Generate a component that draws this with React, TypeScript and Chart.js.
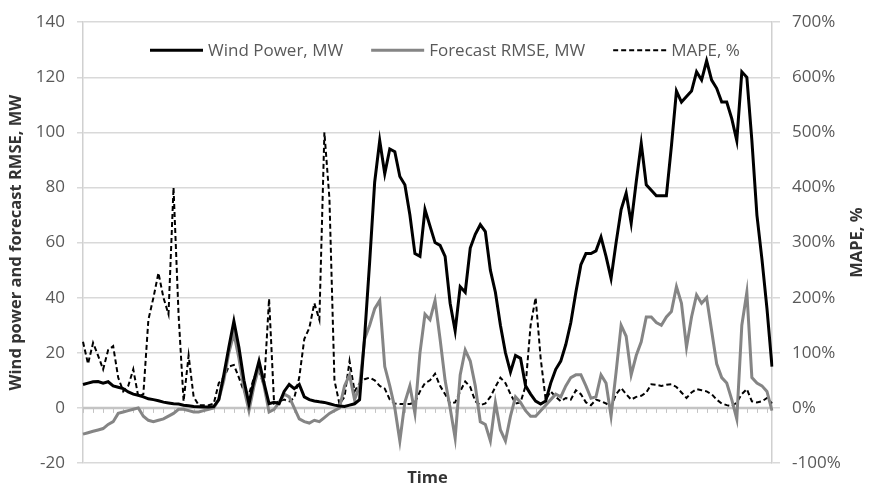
import React, { useEffect, useRef } from "react";
import { Chart, registerables } from "chart.js";

Chart.register(...registerables);

// Wind power, MW (left axis)
const WIND_POWER = [
  8.5, 9, 9.5, 9.6, 9, 9.5, 8, 7.5, 7, 5.8,
  5, 4.6, 4, 3.3, 3, 2.6, 2.1, 1.8, 1.5, 1.4,
  1, 0.8, 0.5, 0.4, 0.3, 0.3, 0.5, 3, 12, 22,
  31.5, 22, 10, 1.5, 10, 17, 9, 1.5, 2, 1.5,
  6, 8.5, 7, 8.5, 4, 3, 2.5, 2.2, 2, 1.5,
  1, 0.7, 0.5, 1, 1.5, 3, 26, 53, 82, 97,
  85, 94, 93, 84, 81, 70, 56, 55, 72, 66,
  60, 59, 55, 38, 28, 44, 42, 58, 63, 66.5,
  64, 50, 42, 30, 20, 13, 19, 18, 8, 5,
  2.5, 1.4, 2.5, 9, 14, 17, 23, 31, 42, 52,
  56, 56, 57, 62, 55, 47, 60, 72, 78, 67,
  82, 96, 81, 79, 77, 77, 77, 95, 115, 111,
  113, 115, 122, 119, 126, 119, 116, 111, 111, 105,
  97, 122, 120, 97, 70, 54, 36, 15,
];

// Forecast RMSE, MW (left axis)
const FORECAST_RMSE = [
  -9.5, -9, -8.5, -8, -7.5, -6, -5, -2, -1.5, -1,
  -0.5, 0, -3, -4.5, -5, -4.5, -4, -3, -2, -0.5,
  -0.5, -1, -1.5, -1.5, -1, -0.5, 0, 3, 10, 20,
  27, 18, 7, -1, 8, 15, 8, -1.5, -0.5, 2,
  5, 4, 0, -4, -5, -5.5, -4.5, -5, -3.5, -2,
  -1, 0, 8, 12, 3, 8, 25, 30, 36, 39,
  15, 8, 0, -12, 2, 8, -2, 20, 34, 32,
  39, 25, 10, 0, -11, 12, 21, 17, 8, -5,
  -6, -12, 2, -8, -12, -3, 4, 2, -1, -3,
  -3, -1, 1, 3, 5, 4, 8, 11, 12, 12,
  8, 3.5, 4, 12, 9, -3, 13, 30, 26, 12,
  19, 24, 33, 33, 31, 30, 33, 35, 44, 38,
  22, 33, 41, 38, 40, 28, 16, 11, 9, 3,
  -4, 30, 42, 11, 9, 8, 6, -1,
];

// MAPE, % (right axis)
const MAPE = [
  120, 80, 118, 95, 70, 105, 112, 55, 30, 40,
  70, 20, 25, 160, 200, 245, 200, 170, 400, 170,
  12, 95, 20, 5, 5, 5, 8, 45, 55, 75,
  78, 55, 30, 25, 55, 68, 40, 198, 8, 12,
  15, 12, 18, 55, 125, 145, 190, 160, 500, 380,
  50, 7, 20, 85, 30, 45, 52, 55, 50, 40,
  35, 15, 8, 7, 7, 7, 10, 30, 45, 50,
  62, 40, 25, 8, 10, 30, 48, 38, 12, 5,
  8, 20, 38, 55, 45, 25, 8, 10, 40, 150,
  200, 90, 15, 30, 20, 12, 18, 15, 32, 25,
  10, 5, 15, 12, 8, 2, 25, 36, 25, 15,
  20, 22, 28, 43, 42, 40, 42, 43, 38, 28,
  18, 28, 34, 32, 30, 25, 15, 8, 5, 3,
  10, 25, 34, 12, 10, 12, 18, 8,
];

const TIME_STEPS = WIND_POWER.map((_, i) => String(i));

const LEFT_AXIS = { min: -20, max: 140, step: 20 };
const RIGHT_AXIS = { min: -100, max: 700, step: 100 };

const SERIES_NAMES = ["Wind Power, MW", "Forecast RMSE, MW", "MAPE, %"];
const LEFT_TITLE = "Wind power and forecast RMSE, MW";
const RIGHT_TITLE = "MAPE, %";
const X_TITLE = "Time";

const FONT = '"Open Sans", "DejaVu Sans", sans-serif';
const TICK_COLOR = "#595959";
const GRID_COLOR = "#d9d9d9";
const TITLE_COLOR = "#333333";
const TITLE_SIZE = 16.5;

const zeroAxisPlugin = {
  id: "zeroAxis",
  beforeDatasetsDraw(chart: any) {
    const { ctx, chartArea, scales } = chart;
    const y = scales.y.getPixelForValue(0);
    ctx.save();
    ctx.strokeStyle = "#c4c4c4";
    ctx.lineWidth = 2.5;
    ctx.beginPath();
    ctx.moveTo(chartArea.left, y);
    ctx.lineTo(chartArea.right, y);
    ctx.stroke();
    ctx.lineWidth = 1;
    ctx.beginPath();
    for (let i = 0; i < TIME_STEPS.length; i += 2) {
      const x = Math.round(scales.x.getPixelForValue(i)) + 0.5;
      ctx.moveTo(x, y);
      ctx.lineTo(x, y + 5);
    }
    ctx.stroke();
    ctx.restore();
  },
};

const overlayPlugin = {
  id: "overlay",
  afterDraw(chart: any) {
    const { ctx, chartArea, scales } = chart;
    ctx.save();
    // legend inside plot area
    ctx.font = `17px ${FONT}`;
    ctx.textBaseline = "middle";
    ctx.textAlign = "left";
    let x = chartArea.left + 67;
    const y = chartArea.top + 28;
    chart.data.datasets.forEach((ds: any) => {
      ctx.strokeStyle = ds.borderColor;
      ctx.lineWidth = ds.borderWidth;
      ctx.setLineDash(ds.borderDash || []);
      ctx.beginPath();
      ctx.moveTo(x, y);
      ctx.lineTo(x + 53, y);
      ctx.stroke();
      ctx.setLineDash([]);
      ctx.fillStyle = TICK_COLOR;
      ctx.fillText(ds.label, x + 58, y + 1);
      x += 58 + ctx.measureText(ds.label).width + 28;
    });
    // right axis title, reading bottom to top
    const r = scales.y1;
    ctx.font = `bold ${TITLE_SIZE}px ${FONT}`;
    ctx.fillStyle = TITLE_COLOR;
    ctx.textAlign = "center";
    ctx.translate(r.right - 14, (chartArea.top + chartArea.bottom) / 2);
    ctx.rotate(-Math.PI / 2);
    ctx.fillText(RIGHT_TITLE, 0, 0);
    ctx.restore();
  },
};

export default function App() {
  const canvasRef = useRef<HTMLCanvasElement | null>(null);

  useEffect(() => {
    document.body.style.margin = "0";
    const canvas = canvasRef.current;
    if (!canvas) return;
    const chart = new Chart(canvas, {
      type: "line",
      data: {
        labels: TIME_STEPS,
        datasets: [
          {
            label: SERIES_NAMES[0],
            data: WIND_POWER,
            borderColor: "#000000",
            borderWidth: 3,
            pointRadius: 0,
            tension: 0,
            yAxisID: "y",
            order: 0,
          },
          {
            label: SERIES_NAMES[1],
            data: FORECAST_RMSE,
            borderColor: "#858585",
            borderWidth: 3,
            pointRadius: 0,
            tension: 0,
            yAxisID: "y",
            order: 1,
          },
          {
            label: SERIES_NAMES[2],
            data: MAPE,
            borderColor: "#000000",
            borderWidth: 2,
            borderDash: [5, 3],
            pointRadius: 0,
            tension: 0,
            yAxisID: "y1",
            order: 2,
          },
        ],
      },
      options: {
        responsive: false,
        animation: false,
        devicePixelRatio: 1,
        layout: { padding: { top: 15, left: 0, right: 0, bottom: 0 } },
        plugins: { legend: { display: false }, tooltip: { enabled: false } },
        scales: {
          x: {
            type: "category",
            grid: { display: false },
            border: { display: false },
            ticks: { display: false },
            title: {
              display: true,
              text: X_TITLE,
              color: TITLE_COLOR,
              font: { family: FONT, size: TITLE_SIZE, weight: "bold" },
              padding: { top: 0, bottom: 0 },
            },
            afterFit: (s: any) => {
              s.height = 25;
            },
          },
          y: {
            position: "left",
            min: LEFT_AXIS.min,
            max: LEFT_AXIS.max,
            ticks: {
              stepSize: LEFT_AXIS.step,
              color: TICK_COLOR,
              font: { family: FONT, size: 17 },
              padding: 12,
            },
            grid: { color: GRID_COLOR, lineWidth: 1.5, tickLength: 6 },
            border: { display: true, color: "#d0d0d0", width: 1.5 },
            title: {
              display: true,
              text: LEFT_TITLE,
              color: TITLE_COLOR,
              font: { family: FONT, size: TITLE_SIZE, weight: "bold" },
              padding: { top: 6, bottom: 0 },
            },
            afterFit: (s: any) => {
              s.width = 83;
            },
          },
          y1: {
            position: "right",
            min: RIGHT_AXIS.min,
            max: RIGHT_AXIS.max,
            ticks: {
              stepSize: RIGHT_AXIS.step,
              color: TICK_COLOR,
              font: { family: FONT, size: 17 },
              padding: 12,
              callback: (v: any) => `${v}%`,
            },
            grid: { drawOnChartArea: false, color: GRID_COLOR, lineWidth: 1.5, tickLength: 8 },
            border: { display: true, color: "#d0d0d0", width: 1.5 },
            afterFit: (s: any) => {
              s.width = 99;
            },
          },
        },
      },
      plugins: [zeroAxisPlugin, overlayPlugin],
    } as any);
    return () => chart.destroy();
  }, []);

  return (
    <div style={{ width: 871, height: 488, background: "#ffffff" }}>
      <canvas ref={canvasRef} width={871} height={488} style={{ display: "block" }} />
    </div>
  );
}
